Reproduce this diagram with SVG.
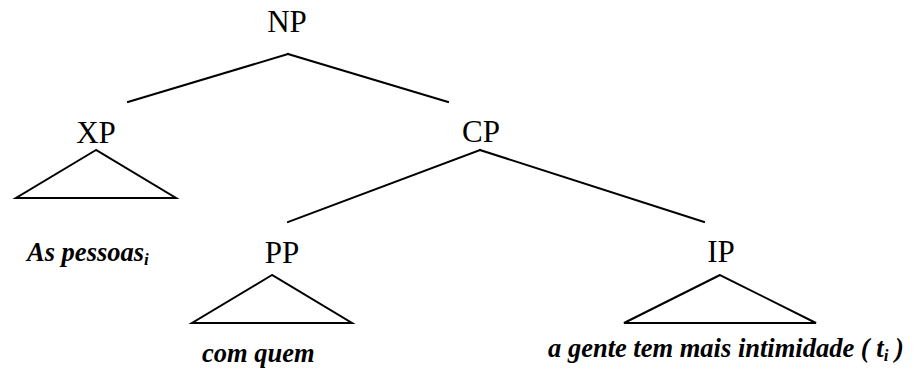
<svg xmlns="http://www.w3.org/2000/svg" width="913" height="374" viewBox="0 0 913 374">
<style>
.lab{font-family:"Liberation Serif","Times New Roman",serif;font-size:31px;fill:#000;text-anchor:middle}
.leaf{font-family:"Liberation Serif","Times New Roman",serif;font-size:26.5px;font-weight:700;font-style:italic;fill:#000}
.sub{font-size:17px}
.ln{stroke:#000;stroke-width:2;fill:none;stroke-linecap:square}
</style>
<rect width="913" height="374" fill="#fff"/>
<g id="connectors">
<line class="ln" x1="288" y1="54" x2="128" y2="102"/>
<line class="ln" x1="288" y1="54" x2="448" y2="102"/>
<line class="ln" x1="480" y1="150" x2="288" y2="222"/>
<line class="ln" x1="480" y1="150" x2="704" y2="222"/>
</g>
<g id="NP"><text class="lab" x="287" y="32">NP</text></g>
<g id="XP"><text class="lab" x="96" y="143">XP</text>
<polygon class="ln" points="96,150 16,198 176,198"/></g>
<g id="CP"><text class="lab" x="481" y="142">CP</text></g>
<g id="PP"><text class="lab" x="282" y="263">PP</text>
<polygon class="ln" points="272,275 192,323 352,323"/></g>
<g id="IP"><text class="lab" x="721" y="262">IP</text>
<polygon class="ln" points="720,275 624,323 816,323"/></g>
<g id="leaf-xp"><text class="leaf" x="27" y="261">As pessoas<tspan class="sub" dy="4">i</tspan></text></g>
<g id="leaf-pp"><text class="leaf" x="202" y="362">com quem</text></g>
<g id="leaf-ip"><text class="leaf" x="548" y="357">a gente tem mais intimidade ( t<tspan class="sub" dy="4">i</tspan><tspan dy="-4"> )</tspan></text></g>
</svg>
